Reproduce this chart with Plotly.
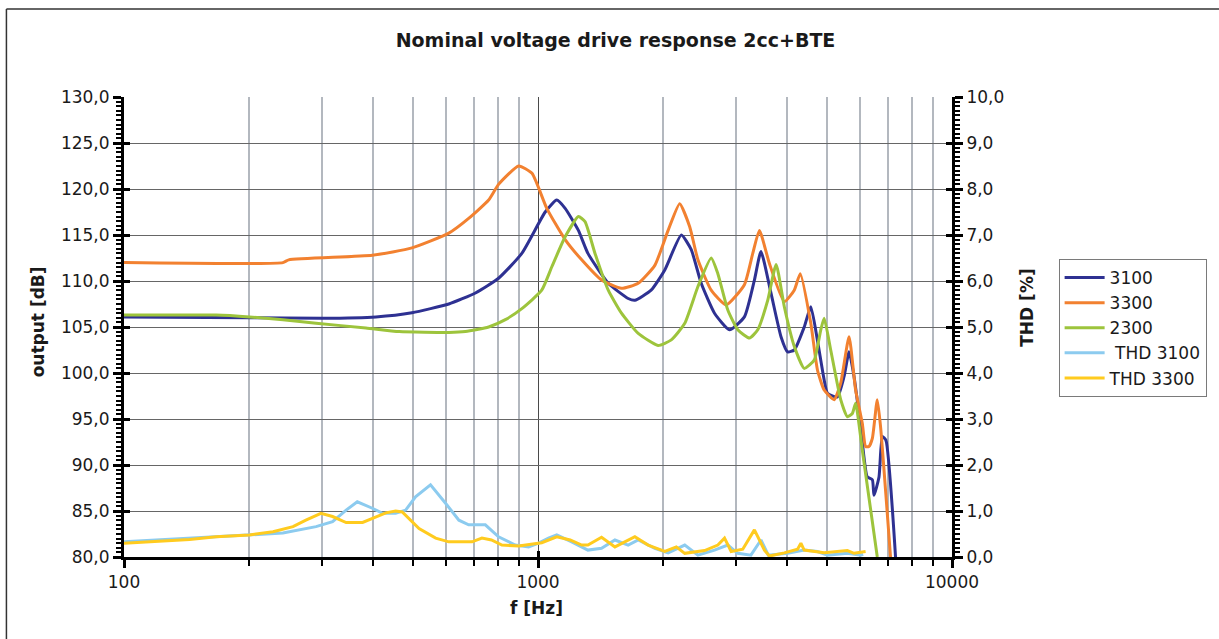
import plotly.graph_objects as go

# ---- measured response, output level [dB] ----
f_3100 = [100, 200, 300, 406, 496, 609, 706, 803, 914, 1041, 1110, 1163, 1252, 1320,
          1478, 1651, 1714, 1876, 2024, 2219, 2345, 2479, 2669, 2901, 3152, 3332,
          3456, 3653, 3863, 4008, 4159, 4396, 4560, 4733, 4900, 5003, 5287, 5485,
          5641, 5800, 6016, 6243, 6421, 6479, 6663, 6786, 6922, 7305]
db_3100 = [106.1, 106.0, 105.95, 106.1, 106.55, 107.5, 108.7, 110.3, 113.0, 117.5,
           118.8, 117.9, 115.5, 113.0, 109.75, 108.1, 107.9, 109.0, 111.2, 115.0,
           113.4, 109.75, 106.5, 104.7, 106.1, 110.1, 113.2, 108.7, 103.95, 102.3,
           102.5, 105.0, 107.2, 103.5, 99.5, 97.8, 97.4, 99.6, 102.3, 99.6, 94.2,
           88.7, 88.4, 86.7, 88.7, 93.1, 92.7, 80.0]

f_3300 = [100, 242, 250, 398, 496, 609, 680, 760, 803, 898, 967, 1050, 1163, 1275,
          1424, 1591, 1746, 1915, 2062, 2199, 2325, 2434, 2620, 2848, 3152, 3302,
          3426, 3622, 3935, 4159, 4300, 4560, 4733, 4912, 5193, 5385, 5641,
          5850, 6073, 6185, 6300, 6421, 6600, 6720, 7104]
db_3300 = [112.0, 112.0, 112.3, 112.8, 113.6, 115.2, 116.8, 118.8, 120.5, 122.5,
           121.7, 117.9, 114.5, 112.3, 110.1, 109.2, 109.75, 111.7, 115.5, 118.4,
           115.9, 112.3, 109.0, 107.4, 109.6, 113.0, 115.5, 111.9, 107.75, 109.0,
           110.8, 105.4, 100.3, 98.15, 97.1, 98.9, 103.95, 98.15, 94.5, 92.0,
           92.0, 92.9, 97.1, 94.2, 80.0]

f_2300 = [100, 167, 201, 242, 291, 384, 462, 609, 668, 760, 834, 914, 1021, 1080,
          1163, 1252, 1299, 1373, 1478, 1591, 1746, 1950, 2099, 2262, 2434, 2620,
          2719, 2874, 3038, 3242, 3395, 3588, 3760, 3935, 4159, 4396, 4647,
          4820, 4912, 5094, 5385, 5588, 5745, 5850, 6073, 6600]
db_2300 = [106.3, 106.3, 106.1, 105.8, 105.4, 104.9, 104.5, 104.4, 104.5, 105.0,
           105.8, 107.0, 109.0, 111.55, 114.8, 117.0, 116.45, 113.0, 109.0, 106.5,
           104.3, 103.0, 103.6, 105.4, 109.4, 112.5, 110.8, 106.85, 104.7, 103.8,
           104.7, 107.9, 111.8, 107.2, 102.9, 100.5, 101.4, 104.7, 105.95,
           102.5, 97.1, 95.25, 95.6, 96.7, 91.6, 80.0]

# ---- total harmonic distortion [%] ----
f_thd3100 = [100, 201, 242, 291, 319, 344, 366, 398, 421, 453, 479, 506, 550, 598,
             644, 680, 746, 803, 881, 949, 1003, 1060, 1110, 1206, 1320, 1424, 1534,
             1651, 1746, 1915, 2062, 2262, 2434, 2669, 2874, 3038, 3268, 3456, 3600,
             4008, 4396, 4733, 5003, 5588, 6016, 6100]
thd_3100 = [0.33, 0.48, 0.52, 0.66, 0.77, 1.02, 1.2, 1.06, 0.95, 0.95, 1.02, 1.31,
            1.57, 1.17, 0.80, 0.70, 0.70, 0.44, 0.26, 0.22, 0.30, 0.41, 0.48, 0.33,
            0.15, 0.19, 0.37, 0.26, 0.37, 0.19, 0.09, 0.26, 0.04, 0.15, 0.26, 0.08,
            0.04, 0.37, 0.04, 0.08, 0.15, 0.12, 0.04, 0.08, 0.04, 0.06]

f_thd3300 = [100, 115, 144, 167, 201, 229, 256, 275, 299, 319, 344, 377, 406, 429,
             453, 470, 516, 566, 609, 693, 732, 772, 818, 898, 1021, 1110, 1196, 1275,
             1320, 1424, 1534, 1714, 1845, 2024, 2158, 2262, 2526, 2719, 2822, 2928,
             3123, 3332, 3523, 3622, 3935, 4236, 4315, 4395, 4912, 5588, 5800, 6185]
thd_3300 = [0.30, 0.33, 0.38, 0.44, 0.48, 0.55, 0.66, 0.80, 0.95, 0.88, 0.75, 0.75,
            0.88, 0.96, 1.0, 0.98, 0.62, 0.41, 0.33, 0.33, 0.41, 0.37, 0.26, 0.24,
            0.31, 0.44, 0.37, 0.26, 0.26, 0.43, 0.22, 0.44, 0.26, 0.12, 0.22, 0.08,
            0.14, 0.26, 0.41, 0.12, 0.17, 0.59, 0.15, 0.02, 0.09, 0.17, 0.30, 0.15,
            0.09, 0.14, 0.08, 0.12]

x_major = [100, 1000, 10000]
x_major_text = ["100", "1000", "10000"]
x_minor = [m * d for d in (100, 1000) for m in range(2, 10)]

FONT = "Verdana, DejaVu Sans, sans-serif"
INK = "#1a1a1a"

fig = go.Figure()

series = [
    (f_3100, db_3100, "3100", "#2E3192", "y", "spline"),
    (f_3300, db_3300, "3300", "#F28130", "y", "spline"),
    (f_2300, db_2300, "2300", "#9DC43C", "y", "spline"),
    (f_thd3100, thd_3100, " THD 3100", "#8CCBEF", "y2", "linear"),
    (f_thd3300, thd_3300, "THD 3300", "#FFCB1F", "y2", "linear"),
]
for fx, vy, name, color, yax, shape in series:
    line = dict(color=color, width=3, shape=shape)
    if shape == "spline":
        line["smoothing"] = 0.5
    fig.add_trace(go.Scatter(x=fx, y=vy, name=name, mode="lines", yaxis=yax,
                             line=line, hoverinfo="x+y+name"))

# empty carriers for the inner half of the crossing major ticks
for xa, ya in (("x", "y3"), ("x", "y4"), ("x2", "y")):
    fig.add_trace(go.Scatter(x=[1000], y=[None], xaxis=xa, yaxis=ya, showlegend=False,
                             hoverinfo="skip", mode="lines"))

axis_common = dict(tickfont=dict(family=FONT, size=17, color=INK), zeroline=False)

fig.update_layout(
    width=1219, height=639,
    margin=dict(l=124, r=264, t=97, b=82),
    paper_bgcolor="white", plot_bgcolor="white",
    separators=", ",
    title=dict(text="<b>Nominal voltage drive response 2cc+BTE</b>",
               x=(396 + 835) / 2 / 1219, xref="container", xanchor="center",
               y=1 - 40 / 639, yref="container", yanchor="middle",
               font=dict(family=FONT, size=19, color=INK)),
    xaxis=dict(type="log", range=[2, 4], tickvals=x_major, ticktext=x_major_text,
               ticks="outside", ticklen=8, tickwidth=3, tickcolor="black",
               showline=True, linewidth=3, linecolor="black",
               showgrid=True, gridcolor="#4a4a4a", gridwidth=1,
               minor=dict(tickvals=x_minor, ticks="outside", ticklen=6, tickwidth=2,
                          tickcolor="black", showgrid=True, gridcolor="#b3b8bf",
                          gridwidth=1.5),
               **axis_common),
    xaxis2=dict(type="log", range=[2, 4], overlaying="x", anchor="y", side="bottom",
                tickvals=x_major, ticks="inside", ticklen=6, tickwidth=3,
                tickcolor="black", showticklabels=False, showgrid=False,
                showline=False, zeroline=False),
    yaxis=dict(range=[80, 130], tick0=80, dtick=5, tickformat=".1f",
               ticks="outside", ticklen=8, tickwidth=3, tickcolor="black",
               showline=True, linewidth=3, linecolor="black",
               showgrid=True, gridcolor="#666666", gridwidth=1,
               minor=dict(dtick=0.5, ticks="outside", ticklen=5, tickwidth=2,
                          tickcolor="black", showgrid=False),
               **axis_common),
    yaxis2=dict(range=[0, 10], tick0=0, dtick=1, tickformat=".1f",
                overlaying="y", side="right", anchor="x",
                ticks="outside", ticklen=8, tickwidth=3, tickcolor="black",
                showline=True, linewidth=3, linecolor="black", showgrid=False,
                minor=dict(dtick=0.1, ticks="outside", ticklen=5, tickwidth=2,
                           tickcolor="black", showgrid=False),
                **axis_common),
    yaxis3=dict(range=[80, 130], tick0=80, dtick=5, overlaying="y", side="left",
                anchor="x", ticks="inside", ticklen=6, tickwidth=3, tickcolor="black",
                showticklabels=False, showgrid=False, showline=False, zeroline=False),
    yaxis4=dict(range=[0, 10], tick0=0, dtick=1, overlaying="y", side="right",
                anchor="x", ticks="inside", ticklen=6, tickwidth=3, tickcolor="black",
                showticklabels=False, showgrid=False, showline=False, zeroline=False),
    legend=dict(x=(1062 - 124) / 831, y=(557 - 259) / 460, xanchor="left", yanchor="top",
                bgcolor="white", bordercolor="#7a7a7a", borderwidth=1, itemwidth=40,
                font=dict(family=FONT, size=17, color=INK), tracegroupgap=0),
    showlegend=True,
)

# axis titles
title_font = dict(family=FONT, size=17, color=INK)
fig.add_annotation(text="<b>output [dB]</b>", xref="paper", yref="paper",
                   x=(38 - 124) / 831, y=(557 - 322) / 460, textangle=-90,
                   xanchor="center", yanchor="middle", showarrow=False, font=title_font)
fig.add_annotation(text="<b>THD [%]</b>", xref="paper", yref="paper",
                   x=(1030 - 124) / 831, y=(557 - 308) / 460, textangle=-90,
                   xanchor="center", yanchor="middle", showarrow=False, font=title_font)
fig.add_annotation(text="<b>f [Hz]</b>", xref="paper", yref="paper",
                   x=(538 - 124) / 831, y=(557 - 608) / 460,
                   xanchor="center", yanchor="middle", showarrow=False, font=title_font)

# chart frame (left and top edges)
fx0 = (6 - 124) / 831
fy0 = (557 - 9) / 460
fig.add_shape(type="line", xref="paper", yref="paper", x0=fx0, x1=fx0,
              y0=fy0, y1=(557 - 700) / 460, line=dict(color="#333333", width=1.5))
fig.add_shape(type="line", xref="paper", yref="paper", x0=fx0, x1=(1300 - 124) / 831,
              y0=fy0, y1=fy0, line=dict(color="#333333", width=1.5))

fig.write_html("out.html")
